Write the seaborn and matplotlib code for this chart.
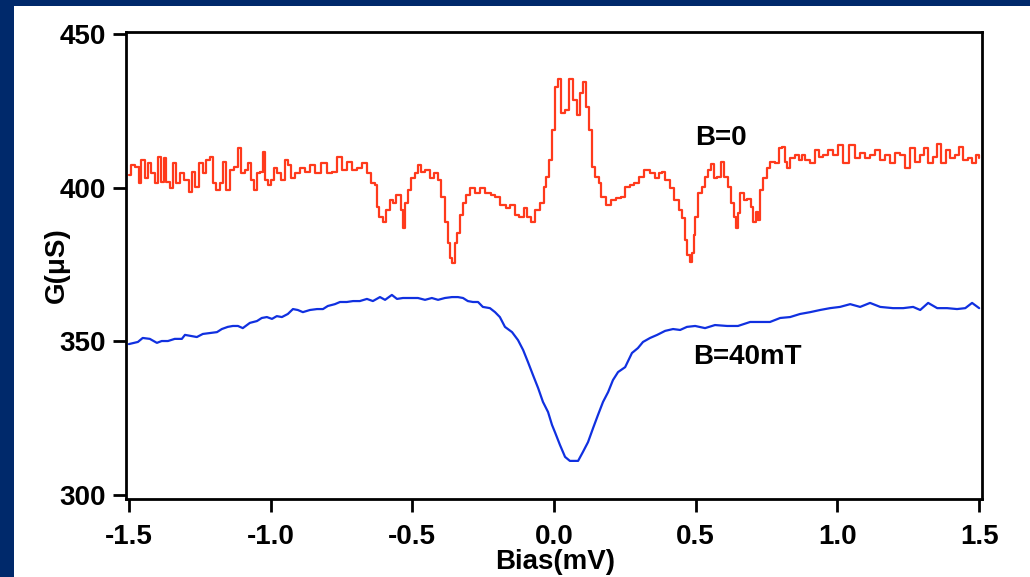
import matplotlib
matplotlib.use("Agg")
import matplotlib.pyplot as plt
from matplotlib.patches import Rectangle
import pandas as pd
import seaborn as sns

# Differential conductance spectra, B = 0 (red) and B = 40 mT (blue)
bias_b0 = [
    -1.500, -1.486, -1.468, -1.461, -1.451, -1.436, -1.426, -1.415, -1.401, -1.391,
    -1.380, -1.373, -1.362, -1.348, -1.338, -1.327, -1.313, -1.295, -1.278, -1.274,
    -1.260, -1.242, -1.232, -1.221, -1.207, -1.196, -1.186, -1.172, -1.165, -1.151,
    -1.136, -1.119, -1.108, -1.098, -1.084, -1.073, -1.062, -1.052, -1.045, -1.031,
    -1.024, -1.013, -1.002, -0.992, -0.985, -0.967, -0.956, -0.942, -0.932, -0.921,
    -0.904, -0.886, -0.868, -0.851, -0.833, -0.808, -0.791, -0.773, -0.755, -0.738,
    -0.720, -0.702, -0.685, -0.667, -0.649, -0.639, -0.625, -0.621, -0.614, -0.596,
    -0.586, -0.572, -0.561, -0.554, -0.544, -0.536, -0.529, -0.519, -0.508, -0.498,
    -0.484, -0.476, -0.462, -0.445, -0.431, -0.416, -0.402, -0.392, -0.378, -0.371,
    -0.364, -0.356, -0.346, -0.339, -0.325, -0.314, -0.304, -0.286, -0.272, -0.251,
    -0.233, -0.215, -0.198, -0.180, -0.162, -0.145, -0.131, -0.113, -0.099, -0.088,
    -0.074, -0.060, -0.042, -0.032, -0.021, -0.011, -0.004, 0.011, 0.018, 0.032,
    0.046, 0.060, 0.074, 0.085, 0.099, 0.109, 0.120, 0.127, 0.138, 0.152,
    0.162, 0.173, 0.191, 0.208, 0.226, 0.244, 0.258, 0.275, 0.293, 0.304,
    0.328, 0.346, 0.364, 0.374, 0.385, 0.399, 0.416, 0.434, 0.445, 0.455,
    0.466, 0.473, 0.484, 0.491, 0.494, 0.501, 0.515, 0.526, 0.540, 0.547,
    0.558, 0.568, 0.582, 0.596, 0.607, 0.618, 0.632, 0.639, 0.646, 0.649,
    0.664, 0.674, 0.688, 0.699, 0.706, 0.716, 0.724, 0.731, 0.745, 0.755,
    0.769, 0.787, 0.798, 0.808, 0.819, 0.826, 0.840, 0.858, 0.868, 0.879,
    0.893, 0.911, 0.928, 0.939, 0.956, 0.974, 0.992, 1.009, 1.027, 1.052,
    1.069, 1.087, 1.105, 1.122, 1.140, 1.158, 1.175, 1.193, 1.211, 1.228,
    1.246, 1.264, 1.281, 1.299, 1.309, 1.327, 1.345, 1.359, 1.373, 1.391,
    1.405, 1.422, 1.433, 1.451, 1.468, 1.479, 1.496, 1.500,
]
g_b0 = [
    404.0, 407.4, 406.7, 401.5, 409.0, 403.0, 408.0, 404.8, 401.5, 410.0,
    401.8, 409.6, 401.8, 399.9, 408.0, 401.5, 404.8, 402.5, 398.6, 405.0,
    400.2, 408.0, 404.8, 409.0, 410.0, 401.5, 399.2, 401.5, 408.4, 399.2,
    405.7, 406.7, 412.9, 404.8, 405.7, 408.0, 402.5, 399.2, 404.8, 405.0,
    411.6, 402.5, 400.9, 402.5, 406.4, 404.8, 402.5, 409.0, 407.4, 403.1,
    404.8, 406.4, 405.0, 407.4, 404.8, 408.0, 404.8, 405.0, 410.0, 405.7,
    408.4, 405.7, 406.4, 408.0, 404.8, 401.5, 400.9, 393.7, 390.5, 388.8,
    392.7, 396.0, 395.0, 397.6, 397.6, 392.7, 386.9, 395.0, 399.2, 403.1,
    404.8, 407.4, 405.0, 405.7, 403.1, 404.8, 402.5, 397.0, 388.8, 382.0,
    377.1, 375.5, 382.0, 385.3, 391.1, 395.0, 397.6, 399.9, 398.3, 399.9,
    398.3, 397.6, 397.0, 394.4, 393.4, 394.4, 391.1, 390.5, 393.4, 390.5,
    388.8, 392.7, 395.0, 400.2, 403.5, 409.0, 418.8, 432.8, 435.4, 424.3,
    425.3, 435.4, 428.5, 423.6, 430.8, 434.4, 426.3, 418.8, 406.7, 403.5,
    401.5, 397.0, 394.4, 396.0, 396.6, 397.0, 400.2, 400.9, 401.5, 403.5,
    405.7, 404.8, 403.1, 404.8, 405.0, 402.5, 399.9, 396.0, 392.7, 390.1,
    383.0, 378.1, 375.8, 378.7, 384.6, 390.5, 398.3, 400.2, 403.5, 405.7,
    407.7, 403.1, 403.5, 408.4, 403.5, 400.2, 395.0, 390.5, 386.9, 391.8,
    398.3, 396.0, 396.3, 393.7, 388.8, 392.1, 389.5, 399.2, 403.1, 406.4,
    408.4, 408.0, 412.9, 413.2, 408.4, 406.4, 409.6, 410.6, 409.0, 410.6,
    409.0, 408.0, 412.2, 410.0, 410.6, 412.2, 410.6, 413.9, 408.0, 413.9,
    409.6, 411.3, 409.6, 410.6, 412.2, 409.0, 410.6, 408.0, 411.3, 410.6,
    406.4, 412.9, 408.4, 410.6, 412.9, 408.0, 410.0, 414.2, 408.0, 412.2,
    409.6, 410.6, 413.2, 409.0, 409.6, 408.0, 410.6, 409.6,
]

bias_b40 = [
    -1.500, -1.468, -1.451, -1.426, -1.401, -1.384, -1.362, -1.338, -1.313, -1.302,
    -1.278, -1.260, -1.239, -1.214, -1.189, -1.172, -1.151, -1.133, -1.115, -1.098,
    -1.073, -1.048, -1.031, -1.013, -0.995, -0.978, -0.960, -0.939, -0.921, -0.904,
    -0.886, -0.861, -0.836, -0.815, -0.798, -0.773, -0.755, -0.731, -0.709, -0.685,
    -0.660, -0.639, -0.614, -0.596, -0.572, -0.554, -0.533, -0.501, -0.480, -0.455,
    -0.431, -0.409, -0.385, -0.360, -0.339, -0.321, -0.304, -0.286, -0.268, -0.251,
    -0.226, -0.208, -0.191, -0.173, -0.148, -0.127, -0.109, -0.092, -0.074, -0.056,
    -0.039, -0.021, -0.007, 0.004, 0.021, 0.039, 0.056, 0.085, 0.102, 0.120,
    0.138, 0.155, 0.173, 0.191, 0.208, 0.226, 0.251, 0.275, 0.296, 0.314,
    0.339, 0.364, 0.392, 0.420, 0.445, 0.469, 0.498, 0.533, 0.568, 0.611,
    0.649, 0.692, 0.727, 0.762, 0.798, 0.833, 0.868, 0.904, 0.939, 0.974,
    1.009, 1.045, 1.080, 1.115, 1.151, 1.196, 1.232, 1.267, 1.292, 1.320,
    1.352, 1.387, 1.422, 1.451, 1.475, 1.500,
]
g_b40 = [
    349.1, 349.8, 351.1, 350.8, 349.5, 350.1, 350.1, 350.8, 350.8, 352.1,
    351.7, 351.4, 352.4, 352.7, 353.0, 354.0, 354.7, 355.0, 355.0, 354.3,
    356.0, 356.6, 357.6, 357.9, 357.3, 358.2, 357.9, 358.9, 360.5, 360.2,
    359.5, 360.2, 360.5, 360.5, 361.5, 362.1, 362.8, 362.8, 363.1, 363.1,
    363.8, 363.1, 364.4, 363.5, 365.1, 363.8, 364.1, 364.1, 364.1, 363.5,
    364.1, 363.5, 364.1, 364.4, 364.4, 364.1, 363.1, 362.8, 362.8, 361.2,
    360.8, 359.5, 357.9, 354.7, 353.0, 350.4, 347.2, 343.3, 339.0, 334.8,
    330.3, 327.0, 322.8, 320.3, 316.3, 312.4, 311.1, 311.1, 314.0, 317.2,
    321.8, 326.0, 330.3, 333.5, 337.4, 340.0, 341.6, 346.2, 347.8, 349.8,
    351.1, 352.1, 353.4, 354.0, 353.7, 354.7, 355.0, 354.3, 355.3, 355.0,
    355.0, 356.3, 356.3, 356.3, 357.6, 357.9, 358.9, 359.5, 360.2, 360.8,
    361.2, 362.1, 361.2, 362.5, 361.2, 360.8, 360.8, 361.2, 360.2, 362.5,
    360.8, 360.8, 360.5, 360.8, 362.5, 360.8,
]

x_ticks = [-1.5, -1.0, -0.5, 0.0, 0.5, 1.0, 1.5]
x_tick_labels = ["-1.5", "-1.0", "-0.5", "0.0", "0.5", "1.0", "1.5"]
y_ticks = [300, 350, 400, 450]
y_tick_labels = ["300", "350", "400", "450"]

df_b0 = pd.DataFrame({"bias": bias_b0, "G": g_b0})
df_b40 = pd.DataFrame({"bias": bias_b40, "G": g_b40})

sns.set_theme(style="white")
plt.rcParams["font.family"] = ["Liberation Sans", "DejaVu Sans"]
plt.rcParams["font.weight"] = "bold"
plt.rcParams["axes.unicode_minus"] = False

NAVY = "#00296b"
RED = "#ff3a1c"
BLUE = "#1030e0"

fig = plt.figure(figsize=(10.30, 5.77), dpi=100, facecolor=NAVY)
# white panel inside the navy frame
fig.patches.append(Rectangle((14 / 1030, 0), 1 - 14 / 1030, 1 - 6 / 577,
                             transform=fig.transFigure, facecolor="white",
                             edgecolor="none", zorder=-10))

ax = fig.add_axes([126 / 1030, 1 - 499 / 577, 856 / 1030, 467 / 577])
ax.set_zorder(5)
ax.set_facecolor("white")

sns.lineplot(data=df_b0, x="bias", y="G", ax=ax, color=RED, lw=1.6,
             drawstyle="steps-mid", estimator=None, sort=False)
sns.lineplot(data=df_b40, x="bias", y="G", ax=ax, color=BLUE, lw=1.6,
             estimator=None, sort=False)

ax.set_xlim(-1.51, 1.51)
ax.set_ylim(298.7, 450.65)
ax.set_xticks(x_ticks)
ax.set_xticklabels(x_tick_labels)
ax.set_yticks(y_ticks)
ax.set_yticklabels(y_tick_labels)

for side in ["left", "right", "top", "bottom"]:
    ax.spines[side].set_visible(True)
    ax.spines[side].set_color("black")
    ax.spines[side].set_linewidth(2.0)

ax.tick_params(axis="both", which="major", direction="out", length=9.5,
               width=2.0, color="black", labelsize=20, labelcolor="black",
               left=True, bottom=True)
ax.tick_params(axis="y", pad=5)
ax.tick_params(axis="x", pad=8.5)
for lab in ax.get_xticklabels() + ax.get_yticklabels():
    lab.set_fontweight("bold")

ax.set_xlabel("Bias(mV)", fontsize=20, fontweight="bold", color="black")
ax.set_ylabel("G(\u03bcS)", fontsize=20, fontweight="bold", color="black")
ax.xaxis.set_label_coords(0.501, -0.107)
ax.yaxis.set_label_coords(-0.066, 0.50)

ax.text(0.498, 416.2, "B=0", fontsize=20, fontweight="bold", color="black",
        ha="left", va="center")
ax.text(0.491, 344.9, "B=40mT", fontsize=20, fontweight="bold", color="black",
        ha="left", va="center")

fig.savefig("out.png", dpi=100, facecolor=NAVY)
